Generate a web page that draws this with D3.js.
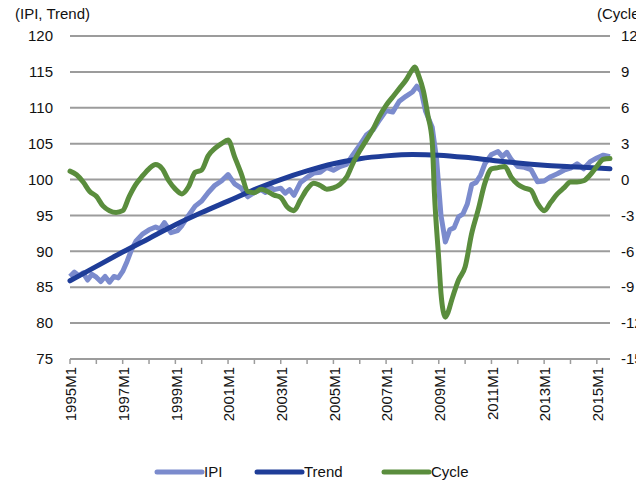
<!DOCTYPE html>
<html>
<head>
<meta charset="utf-8">
<script src="https://cdn.jsdelivr.net/npm/d3@7"></script>
<style>
  body { margin: 0; background: #fff; }
  text { font-family: "Liberation Sans", Arial, sans-serif; fill: #111; }
</style>
</head>
<body>
<svg id="chart" width="636" height="481"></svg>
<script>
// data
const ipi = [
  ["1995M1", 86.5], ["1995M3", 87.1], ["1995M5", 86.6], ["1995M7", 87.0], ["1995M9", 86.0],
  ["1995M11", 86.8], ["1996M1", 86.4], ["1996M3", 85.8], ["1996M5", 86.5], ["1996M7", 85.7],
  ["1996M9", 86.5], ["1996M11", 86.3], ["1997M1", 87.2], ["1997M3", 88.6], ["1997M5", 90.2],
  ["1997M7", 91.4], ["1997M10", 92.4], ["1998M1", 93.0], ["1998M4", 93.4], ["1998M6", 93.1],
  ["1998M8", 94.0], ["1998M11", 92.6], ["1999M2", 92.9], ["1999M4", 93.6], ["1999M7", 95.0],
  ["1999M10", 96.3], ["2000M1", 97.0], ["2000M4", 98.2], ["2000M7", 99.2], ["2000M10", 99.8],
  ["2001M1", 100.7], ["2001M4", 99.4], ["2001M7", 98.8], ["2001M10", 97.6],
  ["2002M1", 98.2], ["2002M4", 98.6], ["2002M6", 98.2], ["2002M8", 99.0], ["2002M10", 98.6],
  ["2003M1", 98.8], ["2003M3", 98.1], ["2003M5", 98.6], ["2003M7", 97.8], ["2003M10", 99.6],
  ["2004M1", 100.3], ["2004M4", 100.9], ["2004M7", 101.0], ["2004M10", 101.7],
  ["2005M1", 101.3], ["2005M4", 101.8], ["2005M7", 102.1], ["2005M10", 103.5],
  ["2006M1", 104.8], ["2006M4", 106.2], ["2006M7", 106.9], ["2006M10", 108.3],
  ["2007M1", 109.6], ["2007M4", 109.4], ["2007M7", 110.9], ["2007M10", 111.6],
  ["2008M1", 112.2], ["2008M3", 113.0], ["2008M5", 112.3], ["2008M7", 109.5],
  ["2008M10", 107.3], ["2008M12", 102.8], ["2009M2", 95.0], ["2009M4", 91.3],
  ["2009M6", 93.0], ["2009M8", 93.3], ["2009M10", 94.8], ["2009M12", 95.2], ["2010M2", 96.6],
  ["2010M4", 99.3], ["2010M6", 99.6], ["2010M8", 100.6], ["2010M10", 102.2], ["2011M1", 103.5],
  ["2011M4", 103.9], ["2011M6", 103.2], ["2011M8", 103.8], ["2011M10", 102.8],
  ["2012M1", 101.8], ["2012M4", 101.7], ["2012M7", 101.4], ["2012M10", 99.7],
  ["2013M1", 99.8], ["2013M4", 100.4], ["2013M7", 100.8], ["2013M10", 101.3],
  ["2014M1", 101.6], ["2014M4", 102.2], ["2014M7", 101.5], ["2014M10", 102.5],
  ["2015M1", 103.0], ["2015M4", 103.4], ["2015M7", 103.2]
];

const trend = [
  ["1995M1", 85.9], ["1996M1", 87.9], ["1997M1", 89.9], ["1998M1", 91.8],
  ["1999M1", 93.7], ["2000M1", 95.4], ["2001M1", 97.0], ["2002M1", 98.6],
  ["2003M1", 100.0], ["2004M1", 101.2], ["2005M1", 102.2], ["2006M1", 102.9],
  ["2007M1", 103.3], ["2008M1", 103.5], ["2009M1", 103.4], ["2010M1", 103.1],
  ["2011M1", 102.7], ["2012M1", 102.3], ["2013M1", 102.0], ["2014M1", 101.8],
  ["2015M1", 101.6], ["2015M7", 101.5]
];

const cycle = [
  ["1995M1", 0.7], ["1995M4", 0.4], ["1995M7", -0.2], ["1995M10", -1.0],
  ["1996M1", -1.4], ["1996M4", -2.2], ["1996M7", -2.6], ["1996M10", -2.75],
  ["1997M1", -2.6], ["1997M4", -1.4], ["1997M7", -0.4], ["1997M10", 0.3],
  ["1998M1", 0.9], ["1998M4", 1.25], ["1998M7", 0.9], ["1998M10", -0.1],
  ["1999M1", -0.8], ["1999M4", -1.2], ["1999M7", -0.6], ["1999M10", 0.6],
  ["2000M1", 0.8], ["2000M4", 2.0], ["2000M7", 2.6], ["2000M10", 3.0],
  ["2001M1", 3.3], ["2001M4", 1.9], ["2001M7", 0.5], ["2001M10", -1.0],
  ["2002M1", -1.1], ["2002M4", -0.8], ["2002M7", -1.0], ["2002M10", -1.3],
  ["2003M1", -1.5], ["2003M4", -2.3], ["2003M7", -2.6], ["2003M10", -1.7],
  ["2004M1", -0.8], ["2004M4", -0.3], ["2004M7", -0.5], ["2004M10", -0.8],
  ["2005M1", -0.7], ["2005M4", -0.4], ["2005M7", 0.2], ["2005M10", 1.4],
  ["2006M1", 2.4], ["2006M4", 3.3], ["2006M7", 4.2], ["2006M10", 5.3],
  ["2007M1", 6.2], ["2007M4", 6.9], ["2007M7", 7.6], ["2007M10", 8.3],
  ["2008M1", 9.2], ["2008M2", 9.4], ["2008M4", 8.6], ["2008M6", 7.4],
  ["2008M8", 5.4], ["2008M10", 3.2], ["2008M11", -1.1], ["2009M1", -6.7],
  ["2009M2", -9.5], ["2009M3", -11.0], ["2009M4", -11.5], ["2009M5", -11.2],
  ["2009M7", -10.0], ["2009M10", -8.4], ["2010M1", -7.3], ["2010M4", -4.5],
  ["2010M7", -2.5], ["2010M10", -0.3], ["2011M1", 0.9], ["2011M4", 1.0],
  ["2011M7", 1.1], ["2011M10", 0.2], ["2012M1", -0.4], ["2012M4", -0.7],
  ["2012M7", -0.9], ["2012M10", -2.0], ["2013M1", -2.6], ["2013M4", -1.9],
  ["2013M7", -1.2], ["2013M10", -0.7], ["2014M1", -0.2], ["2014M4", -0.2],
  ["2014M7", -0.1], ["2014M10", 0.4], ["2015M1", 1.1], ["2015M4", 1.7],
  ["2015M7", 1.75]
];

const leftTicks = [75, 80, 85, 90, 95, 100, 105, 110, 115, 120];
const rightTicks = [-15, -12, -9, -6, -3, 0, 3, 6, 9, 12];
const labelYears = [1995, 1997, 1999, 2001, 2003, 2005, 2007, 2009, 2011, 2013, 2015];
const firstPeriod = "1995M1", lastPeriod = "2015M7";

const colors = { ipi: "#7b8bcd", trend: "#1f3d98", cycle: "#5a8d3d", grid: "#9c9c9c" };
const margin = { top: 36, right: 26, bottom: 122, left: 70 };
const width = 636, height = 481;

function monthIndex(p) {
  const [y, m] = p.split("M").map(Number);
  return (y - 1995) * 12 + (m - 1);
}

const svg = d3.select("#chart");

const x = d3.scaleLinear()
  .domain([monthIndex(firstPeriod), monthIndex(lastPeriod)])
  .range([margin.left, width - margin.right]);
const yL = d3.scaleLinear().domain([75, 120]).range([height - margin.bottom, margin.top]);
const yR = d3.scaleLinear().domain([-15, 12]).range([height - margin.bottom, margin.top]);

// gridlines
svg.append("g").selectAll("line").data(leftTicks).join("line")
  .attr("x1", margin.left).attr("x2", width - margin.right)
  .attr("y1", d => yL(d)).attr("y2", d => yL(d))
  .attr("stroke", colors.grid).attr("stroke-width", 2);

// left labels
svg.append("g").selectAll("text").data(leftTicks).join("text")
  .attr("x", 53).attr("y", d => yL(d)).attr("dy", "0.35em")
  .attr("text-anchor", "end").attr("font-size", 15)
  .text(d => d);

// right labels (cut by the page edge, as in the source)
svg.append("g").selectAll("text").data(rightTicks).join("text")
  .attr("x", 621).attr("y", d => yR(d)).attr("dy", "0.35em")
  .attr("font-size", 15)
  .text(d => d);

svg.append("text").attr("x", 15).attr("y", 19).attr("font-size", 15).text("(IPI, Trend)");
svg.append("text").attr("x", 597).attr("y", 19).attr("font-size", 15).text("(Cycle)");

// x axis ticks every 12 months, labels every 24
const yearTicks = d3.range(1995, 2016).map(yr => monthIndex(yr + "M1"));
const axisY = height - margin.bottom;
svg.append("g").selectAll("line").data(yearTicks).join("line")
  .attr("x1", d => x(d)).attr("x2", d => x(d))
  .attr("y1", axisY).attr("y2", axisY + 5)
  .attr("stroke", colors.grid).attr("stroke-width", 1.5);

svg.append("g").selectAll("text").data(labelYears).join("text")
  .attr("transform", d => `translate(${x(monthIndex(d + "M1")) + 1},${axisY + 8}) rotate(-90)`)
  .attr("dy", "0.35em").attr("text-anchor", "end").attr("font-size", 15)
  .text(d => d + "M1");

// series
const lineL = d3.line().x(d => x(monthIndex(d[0]))).y(d => yL(d[1]));
const lineR = d3.line().x(d => x(monthIndex(d[0]))).y(d => yR(d[1])).curve(d3.curveMonotoneX);

svg.append("path").datum(ipi).attr("d", lineL)
  .attr("fill", "none").attr("stroke", colors.ipi).attr("stroke-width", 5).attr("stroke-linejoin", "round");
svg.append("path").datum(trend).attr("d", lineL.curve(d3.curveMonotoneX))
  .attr("fill", "none").attr("stroke", colors.trend).attr("stroke-width", 5).attr("stroke-linecap", "round");
svg.append("path").datum(cycle).attr("d", lineR)
  .attr("fill", "none").attr("stroke", colors.cycle).attr("stroke-width", 5).attr("stroke-linecap", "round");

// legend
const legend = [
  { name: "IPI", color: colors.ipi, x: 157 },
  { name: "Trend", color: colors.trend, x: 257 },
  { name: "Cycle", color: colors.cycle, x: 384 }
];
const lg = svg.append("g").selectAll("g").data(legend).join("g")
  .attr("transform", d => `translate(${d.x},472)`);
lg.append("line").attr("x1", 0).attr("x2", 45)
  .attr("stroke", d => d.color).attr("stroke-width", 5).attr("stroke-linecap", "round");
lg.append("text").attr("x", 47).attr("dy", "0.35em").attr("font-size", 15).text(d => d.name);
</script>
</body>
</html>
